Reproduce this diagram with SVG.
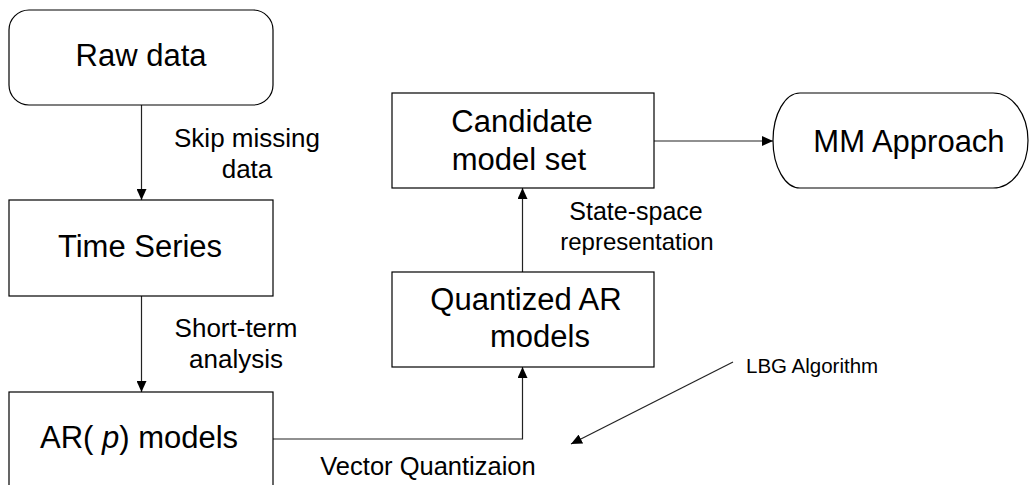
<svg xmlns="http://www.w3.org/2000/svg" width="1030" height="485" viewBox="0 0 1030 485">
<style>
.box{fill:#fff;stroke:#000;stroke-width:1.2}
.t{font-family:"Liberation Sans",Arial,sans-serif;font-size:31px;fill:#000;text-anchor:middle}
.l{font-family:"Liberation Sans",Arial,sans-serif;font-size:26px;fill:#000;text-anchor:middle}
.c{fill:none;stroke:#222;stroke-width:1.2}
</style>
<defs>
<marker id="ah" markerWidth="12" markerHeight="10" refX="11" refY="5" orient="auto" markerUnits="userSpaceOnUse">
<path d="M0,0 L11,5 L0,10 Z" fill="#000"/>
</marker>
</defs>
<rect width="1030" height="485" fill="#fff"/>
<g id="connectors">
<line class="c" x1="141.5" y1="105" x2="141.5" y2="200" marker-end="url(#ah)"/>
<line class="c" x1="141.5" y1="296" x2="141.5" y2="392" marker-end="url(#ah)"/>
<polyline class="c" points="273,439 522.5,439 522.5,367" marker-end="url(#ah)"/>
<line class="c" x1="522.5" y1="272" x2="522.5" y2="188" marker-end="url(#ah)"/>
<line class="c" x1="654" y1="141" x2="773" y2="141" marker-end="url(#ah)"/>
<line class="c" x1="733" y1="362" x2="571" y2="444" marker-end="url(#ah)"/>
</g>
<g id="labels">
<text class="l" x="247" y="147">Skip missing</text>
<text class="l" x="247" y="178">data</text>
<text class="l" x="236" y="337">Short-term</text>
<text class="l" x="236" y="368">analysis</text>
<text class="l" x="636" y="220" style="font-size:25px">State-space</text>
<text class="l" x="637" y="250" style="font-size:24px">representation</text>
<text class="l" x="428" y="475" style="font-size:25.5px">Vector Quantizaion</text>
<text class="l" x="746" y="373" style="font-size:20.5px;text-anchor:start">LBG Algorithm</text>
</g>
<g id="raw-data">
<rect class="box" x="9" y="10" width="264" height="95" rx="20" ry="20"/>
<text class="t" x="141" y="66">Raw data</text>
</g>
<g id="time-series">
<rect class="box" x="9" y="200" width="264" height="96"/>
<text class="t" x="140" y="257">Time Series</text>
</g>
<g id="ar-models">
<rect class="box" x="9" y="392" width="264" height="100"/>
<text class="t" x="40" y="448" style="text-anchor:start">AR( <tspan font-style="italic">p</tspan>) models</text>
</g>
<g id="quantized">
<rect class="box" x="392" y="272" width="262" height="95"/>
<text class="t" x="526" y="310">Quantized AR</text>
<text class="t" x="540" y="347">models</text>
</g>
<g id="candidate">
<rect class="box" x="392" y="93" width="262" height="95"/>
<text class="t" x="522" y="132">Candidate</text>
<text class="t" x="519" y="170">model set</text>
</g>
<g id="mm-approach">
<path class="box" d="M800,93 H993 A35,47.5 0 0 1 993,188 H800 A27,47.5 0 0 1 800,93 Z"/>
<text class="t" x="909" y="152">MM Approach</text>
</g>
</svg>
